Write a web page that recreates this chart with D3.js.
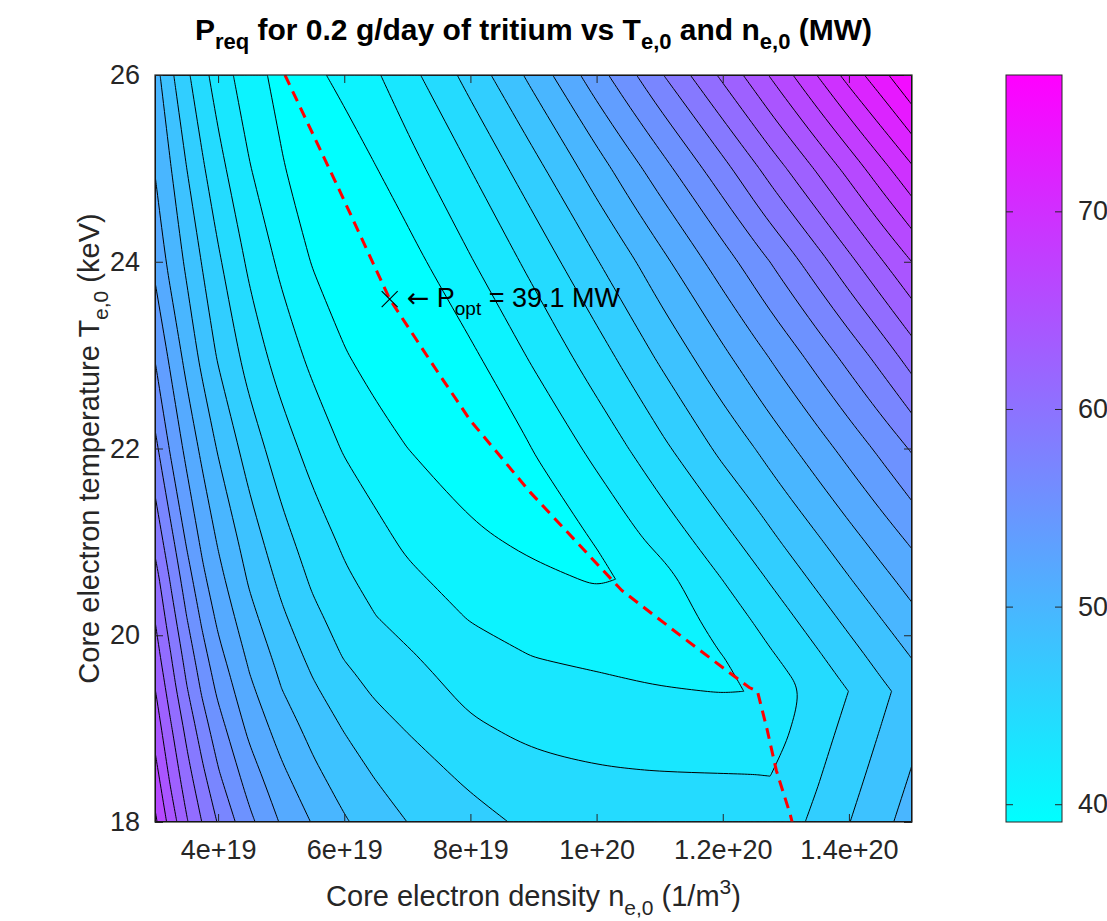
<!DOCTYPE html>
<html>
<head>
<meta charset="utf-8">
<script src="https://cdn.jsdelivr.net/npm/d3@7"></script>
<style>
  body { margin: 0; background: #ffffff; }
  text { font-family: "Liberation Sans", Arial, Helvetica, sans-serif; fill: #262626; white-space: pre; }
</style>
</head>
<body>
<svg id="chart" width="1107" height="921"></svg>
<script>
// Malla: densidad central (1e19 m^-3) por columna, temperatura central (keV) por fila
const densities = [3, 3.25, 3.5, 3.75, 4, 4.5, 5, 5.5, 6, 6.5, 7, 8, 9, 10, 10.5, 11, 12, 12.5, 12.75, 13, 13.5, 14, 14.5, 15];
const temperatures = [18, 18.5, 19, 19.4, 19.6, 19.8, 20.2, 20.6, 21, 22, 23, 24, 25, 26];

// P_req (MW), una fila por temperatura
const powerRows = [
  [68.3, 65.31, 62.7, 60.63, 58.76, 55.72, 53.32, 51.58, 50.08, 49.05, 48.09, 46.97, 45.85, 45.76, 45.7, 45.64, 45.6, 45.58, 45.58, 45.6, 46.74, 48.05, 49.35, 50.66],
  [66.82, 63.88, 61.42, 59.31, 57.33, 54.37, 52.11, 50.34, 49.06, 47.98, 47.25, 45.9, 45.03, 44.71, 44.64, 44.58, 44.54, 44.52, 44.48, 44.92, 46.13, 47.42, 48.73, 50.03],
  [65.4, 62.71, 60.23, 57.96, 56.06, 53.03, 50.91, 49.31, 48.0, 47.0, 46.2, 44.79, 44.05, 43.79, 43.68, 43.59, 43.53, 43.52, 43.64, 44.31, 45.55, 46.8, 48.12, 49.44],
  [64.4, 61.65, 59.1, 56.87, 54.97, 52.1, 49.98, 48.41, 47.07, 46.05, 45.44, 44.02, 43.34, 43.07, 42.93, 42.8, 42.66, 42.72, 43.4, 43.96, 45.08, 46.32, 47.64, 48.95],
  [63.85, 61.18, 58.62, 56.39, 54.49, 51.68, 49.6, 47.98, 46.6, 45.66, 45.06, 43.67, 42.99, 42.72, 42.58, 42.45, 42.4, 43.3, 43.86, 44.41, 45.59, 46.88, 48.22, 49.49],
  [63.3, 60.72, 58.14, 55.9, 54.0, 51.25, 49.21, 47.54, 46.13, 45.27, 44.67, 43.32, 42.63, 42.34, 42.22, 42.1, 42.72, 43.77, 44.33, 44.89, 46.13, 47.47, 48.78, 50.05],
  [62.4, 59.69, 57.12, 54.91, 53.08, 50.42, 48.41, 46.7, 45.53, 44.52, 43.84, 42.57, 41.94, 41.57, 41.5, 41.42, 43.59, 44.7, 45.33, 45.95, 47.3, 48.64, 49.93, 51.25],
  [61.5, 58.69, 56.15, 53.93, 52.26, 49.65, 47.67, 46.01, 44.79, 43.88, 43.06, 41.94, 41.27, 40.75, 41.0, 41.9, 44.53, 45.78, 46.45, 47.12, 48.49, 49.8, 51.12, 52.44],
  [60.2, 57.66, 55.13, 53.11, 51.54, 49.0, 46.95, 45.43, 44.21, 43.24, 42.4, 41.27, 40.55, 40.93, 42.09, 43.2, 45.61, 46.95, 47.64, 48.33, 49.64, 50.99, 52.36, 53.75],
  [57.6, 55.04, 53.0, 51.27, 49.74, 47.25, 45.33, 43.81, 42.54, 41.72, 40.91, 39.75, 40.92, 43.26, 44.48, 45.8, 48.59, 49.87, 50.58, 51.28, 52.7, 54.17, 55.7, 57.3],
  [55.15, 53.07, 51.08, 49.4, 47.89, 45.49, 43.66, 42.24, 41.04, 40.1, 39.3, 40.55, 43.01, 45.51, 46.93, 48.41, 51.34, 52.86, 53.64, 54.42, 56.05, 57.76, 59.58, 61.6],
  [53.05, 51.1, 49.58, 47.99, 46.58, 44.13, 42.32, 40.78, 39.6, 39.2, 40.2, 42.56, 45.05, 47.98, 49.48, 51.1, 54.45, 56.2, 57.11, 58.02, 59.96, 62.01, 64.09, 66.12],
  [51.6, 49.96, 48.12, 46.55, 45.08, 42.79, 41.07, 39.75, 40.0, 40.85, 41.98, 44.52, 47.48, 50.84, 52.67, 54.49, 58.3, 60.37, 61.42, 62.46, 64.56, 66.73, 69.01, 71.27],
  [50.6, 48.44, 46.65, 45.06, 43.72, 41.61, 40.35, 40.55, 41.36, 42.49, 43.85, 46.95, 50.46, 54.54, 56.54, 58.64, 62.89, 65.08, 66.22, 67.36, 69.75, 72.18, 74.46, 76.9]
];

// Niveles de contorno y rango de la barra de color (MW)
const contourLevels = [40.9, 42.7, 44.5, 46.3, 48.1, 49.9, 51.7, 53.5, 55.3, 57.1, 58.9, 60.7, 62.5, 64.3, 66.1, 67.9, 69.7, 71.5, 73.3, 75.1];
const colorRange = [39.1, 76.9];

// Curva de potencia minima (linea roja discontinua)
const optDensities = [5.06, 5.9, 6.72, 7.5, 8.0, 8.95, 9.75, 10.4, 11.4, 12.42, 12.55, 12.7, 12.85, 13.07, 13.1];
const optTemperatures = [26, 24.8, 23.6, 22.8, 22.3, 21.53, 20.95, 20.48, 19.96, 19.44, 19.4, 19.0, 18.55, 18.08, 18.0];

// Punto optimo
const pOptDensity = 6.72;
const pOptTemperature = 23.6;
const pOptValue = 39.1;

// Ticks
const xTickValues = [4, 6, 8, 10, 12, 14];
const xTickLabels = ["4e+19", "6e+19", "8e+19", "1e+20", "1.2e+20", "1.4e+20"];
const yTickValues = [18, 20, 22, 24, 26];
const colorTickValues = [40, 50, 60, 70];

const axisColor = "#262626";
const area = { left: 155, top: 75, right: 912, bottom: 822 };

const svg = d3.select("#chart");
const defs = svg.append("defs");

const xScale = d3.scaleLinear().domain([3, 15]).range([area.left, area.right]);
const yScale = d3.scaleLinear().domain([18, 26]).range([area.bottom, area.top]);
const colorScale = d3.scaleLinear().domain(colorRange).range(["#00ffff", "#ff00ff"]);

defs.append("clipPath").attr("id", "plot-area")
  .append("rect")
  .attr("x", area.left).attr("y", area.top)
  .attr("width", area.right - area.left).attr("height", area.bottom - area.top);

// Texto con subindices / superindices
function addRichText(sel, parts, size) {
  let shift = 0;
  parts.forEach(([content, kind, family]) => {
    const target = kind === "sub" ? size * 0.3 : kind === "sup" ? -size * 0.42 : 0;
    const span = sel.append("tspan").attr("dy", target - shift).text(content);
    if (kind) span.style("font-size", `${Math.round(size * 0.72)}px`);
    if (family) span.style("font-family", family);
    shift = target;
  });
}

// Contornos rellenos a partir de la malla
const nx = densities.length, ny = temperatures.length;
const contours = d3.contours().size([nx, ny]).thresholds(contourLevels)(powerRows.flat());
const colToDensity = d3.scaleLinear().domain(d3.range(nx)).range(densities).clamp(true);
const rowToTemperature = d3.scaleLinear().domain(d3.range(ny)).range(temperatures).clamp(true);

// Anillos en pixeles, suavizados con B-spline; bordes y esquinas se fijan repitiendo el punto
const ringLine = d3.line().curve(d3.curveBasisClosed);
const onEdge = p => Math.abs(p[0] - area.left) < 0.5 || Math.abs(p[0] - area.right) < 0.5 ||
  Math.abs(p[1] - area.top) < 0.5 || Math.abs(p[1] - area.bottom) < 0.5;

function turnAngle(a, b, c) {
  const a1 = Math.atan2(b[1] - a[1], b[0] - a[0]);
  const a2 = Math.atan2(c[1] - b[1], c[0] - b[0]);
  let d = Math.abs(a2 - a1);
  if (d > Math.PI) d = 2 * Math.PI - d;
  return d * 180 / Math.PI;
}

function contourPath(geometry) {
  return geometry.coordinates.map(polygon => polygon.map(ring => {
    const pts = [];
    ring.forEach(([c, r]) => {
      const p = [xScale(colToDensity(c - 0.5)), yScale(rowToTemperature(r - 0.5))];
      const last = pts[pts.length - 1];
      if (!last || Math.hypot(p[0] - last[0], p[1] - last[1]) > 0.05) pts.push(p);
    });
    const first = pts[0], end = pts[pts.length - 1];
    if (pts.length > 1 && Math.hypot(first[0] - end[0], first[1] - end[1]) < 0.05) pts.pop();
    if (pts.length < 3) return "";
    const controls = [];
    pts.forEach((p, i) => {
      const prev = pts[(i - 1 + pts.length) % pts.length];
      const next = pts[(i + 1) % pts.length];
      const fixed = onEdge(p) || turnAngle(prev, p, next) > 50;
      controls.push(p);
      if (fixed) controls.push(p, p);
    });
    return ringLine(controls);
  }).join("")).join("");
}

const plot = svg.append("g").attr("clip-path", "url(#plot-area)");

plot.append("rect")
  .attr("x", area.left).attr("y", area.top)
  .attr("width", area.right - area.left).attr("height", area.bottom - area.top)
  .attr("fill", colorScale(colorRange[0]));

plot.selectAll(".band")
  .data(contours)
  .join("path")
    .attr("class", "band")
    .attr("d", contourPath)
    .attr("fill", d => colorScale(d.value))
    .attr("fill-rule", "evenodd");

plot.selectAll(".isoline")
  .data(contours)
  .join("path")
    .attr("class", "isoline")
    .attr("d", contourPath)
    .attr("fill", "none")
    .attr("stroke", "#000")
    .attr("stroke-width", 1);

// Linea de optimo
plot.append("path")
  .datum(d3.zip(optDensities, optTemperatures))
  .attr("d", d3.line().x(d => xScale(d[0])).y(d => yScale(d[1])))
  .attr("fill", "none")
  .attr("stroke", "#ff0000")
  .attr("stroke-width", 3)
  .attr("stroke-dasharray", "11 7");

// Marcador y etiqueta del optimo
const px = xScale(pOptDensity), py = yScale(pOptTemperature);
plot.append("path")
  .attr("d", `M${px - 8},${py - 8}L${px + 8},${py + 8}M${px - 8},${py + 8}L${px + 8},${py - 8}`)
  .attr("stroke", "#000")
  .attr("stroke-width", 1.1);

const note = svg.append("text")
  .attr("x", px + 17).attr("y", py + 8)
  .style("font-size", "27px").style("fill", "#000");
addRichText(note, [["\u2190", null, "DejaVu Sans"], [" P"], ["opt", "sub"], [` = ${pOptValue} MW`]], 27);

// Ejes con ticks hacia dentro
function styleAxis(g) {
  g.attr("font-size", null).attr("font-family", null);
  g.select(".domain").remove();
  g.selectAll(".tick line").attr("stroke", axisColor);
  g.selectAll(".tick text").style("font-size", "27px").style("fill", axisColor);
}

svg.append("g")
  .attr("transform", `translate(0,${area.bottom})`)
  .call(d3.axisBottom(xScale).tickValues(xTickValues).tickFormat((d, i) => xTickLabels[i])
    .tickSizeInner(-8).tickSizeOuter(0).tickPadding(18))
  .call(styleAxis);

svg.append("g")
  .attr("transform", `translate(0,${area.top})`)
  .call(d3.axisTop(xScale).tickValues(xTickValues).tickFormat("").tickSizeInner(-8).tickSizeOuter(0))
  .call(styleAxis);

svg.append("g")
  .attr("transform", `translate(${area.left},0)`)
  .call(d3.axisLeft(yScale).tickValues(yTickValues).tickSizeInner(-8).tickSizeOuter(0).tickPadding(15))
  .call(styleAxis);

svg.append("g")
  .attr("transform", `translate(${area.right},0)`)
  .call(d3.axisRight(yScale).tickValues(yTickValues).tickFormat("").tickSizeInner(-8).tickSizeOuter(0))
  .call(styleAxis);

svg.append("rect")
  .attr("x", area.left).attr("y", area.top)
  .attr("width", area.right - area.left).attr("height", area.bottom - area.top)
  .attr("fill", "none").attr("stroke", axisColor).attr("stroke-width", 1.2);

// Barra de color
const cb = { left: 1006, right: 1062 };
const cbScale = d3.scaleLinear().domain(colorRange).range([area.bottom, area.top]);
const grad = defs.append("linearGradient").attr("id", "cool-map")
  .attr("x1", 0).attr("y1", 1).attr("x2", 0).attr("y2", 0);
grad.append("stop").attr("offset", 0).attr("stop-color", colorScale(colorRange[0]));
grad.append("stop").attr("offset", 1).attr("stop-color", colorScale(colorRange[1]));

svg.append("rect")
  .attr("x", cb.left).attr("y", area.top)
  .attr("width", cb.right - cb.left).attr("height", area.bottom - area.top)
  .attr("fill", "url(#cool-map)");

svg.append("g")
  .attr("transform", `translate(${cb.right},0)`)
  .call(d3.axisRight(cbScale).tickValues(colorTickValues).tickSizeInner(-7).tickSizeOuter(0).tickPadding(16))
  .call(styleAxis);

svg.append("g")
  .attr("transform", `translate(${cb.left},0)`)
  .call(d3.axisLeft(cbScale).tickValues(colorTickValues).tickFormat("").tickSizeInner(-7).tickSizeOuter(0))
  .call(styleAxis);

svg.append("rect")
  .attr("x", cb.left).attr("y", area.top)
  .attr("width", cb.right - cb.left).attr("height", area.bottom - area.top)
  .attr("fill", "none").attr("stroke", axisColor).attr("stroke-width", 1);

// Titulo y etiquetas
const title = svg.append("text")
  .attr("x", (area.left + area.right) / 2).attr("y", 40)
  .attr("text-anchor", "middle")
  .style("font-size", "30px").style("font-weight", "bold").style("fill", "#000");
addRichText(title, [["P"], ["req", "sub"], [" for 0.2 g/day of tritium vs T"], ["e,0", "sub"], [" and n"], ["e,0", "sub"], [" (MW)"]], 30);

const xLabel = svg.append("text")
  .attr("x", (area.left + area.right) / 2).attr("y", 906)
  .attr("text-anchor", "middle")
  .style("font-size", "29px");
addRichText(xLabel, [["Core electron density n"], ["e,0", "sub"], [" (1/m"], ["3", "sup"], [")"]], 29);

const yLabel = svg.append("text")
  .attr("transform", `translate(99,${(area.top + area.bottom) / 2}) rotate(-90)`)
  .attr("text-anchor", "middle")
  .style("font-size", "29px");
addRichText(yLabel, [["Core electron temperature T"], ["e,0", "sub"], [" (keV)"]], 29);
</script>
</body>
</html>
